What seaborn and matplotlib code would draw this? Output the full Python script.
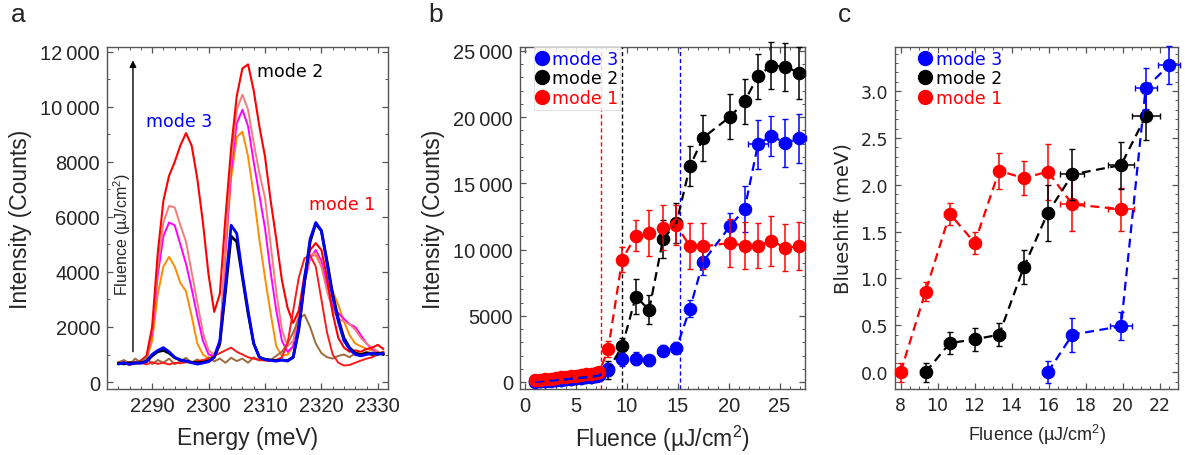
import numpy as np
import pandas as pd
import matplotlib
matplotlib.use("Agg")
import matplotlib.pyplot as plt
from matplotlib.ticker import MultipleLocator, FuncFormatter
from matplotlib.lines import Line2D
import seaborn as sns

# ---------------- data: panel a (spectra) ----------------
energy = np.arange(2284, 2332, 1.0)  # meV sample positions

spec_orange = [700, 730, 680, 710, 740, 800, 1500, 3200, 4200, 4550, 4200, 3600, 3300, 2400, 1400, 1000,
               850, 900, 1300, 4600, 7400, 8900, 9100, 8200, 6800, 5200, 3800, 2500, 1300, 950, 1000, 1300,
               2400, 3700, 4600, 4600, 4200, 3600, 3300, 2800, 2200, 1700, 1400, 1300, 1200, 1150, 1100, 1050]
spec_magenta = [680, 720, 700, 690, 760, 850, 1800, 3900, 5300, 5800, 5700, 5000, 4300, 3400, 2400, 1500,
                1000, 950, 1400, 4800, 7700, 9400, 9900, 9300, 8000, 6800, 5600, 4000, 2600, 1500, 1100, 1300,
                2300, 3600, 4500, 4800, 4400, 3500, 2700, 2500, 2300, 2100, 2000, 1700, 1400, 1200, 1050, 1000]
spec_salmon = [700, 680, 720, 700, 750, 850, 1900, 4200, 5800, 6400, 6350, 5700, 5100, 4000, 2900, 1800,
               1150, 1000, 1500, 5000, 8000, 9900, 10450, 9900, 8700, 7600, 6700, 5000, 3300, 1900, 1300, 1500,
               2500, 3700, 4600, 4700, 4200, 3300, 2600, 2300, 2200, 2100, 1900, 1600, 1400, 1250, 1100, 1000]
spec_red_hi = [720, 760, 690, 730, 780, 950, 2000, 4700, 6600, 7500, 8000, 8600, 9050, 8600, 7400, 5800,
               3900, 2550, 3200, 6000, 8500, 10400, 11400, 11550, 10600, 9300, 8200, 6600, 5200, 3700, 2700, 2150,
               2600, 3900, 4800, 5050, 4800, 3800, 2500, 1600, 1250, 1100, 1150, 1100, 1200, 1250, 1350, 1200]
spec_brown = [700, 800, 650, 850, 700, 900, 650, 800, 700, 850, 650, 750, 880, 700, 820, 680,
              900, 750, 850, 700, 880, 760, 850, 700, 900, 780, 850, 800, 950, 1100, 1400, 1800,
              2300, 2450, 2000, 1400, 1050, 900, 850, 950, 1000, 900, 1050, 1000, 1100, 1050, 1000, 1100]
spec_red_lo = [650, 700, 620, 680, 700, 640, 720, 660, 700, 640, 700, 680, 720, 700, 760, 800,
               850, 950, 1050, 1150, 1250, 1100, 1000, 900, 850, 800, 780, 760, 800, 900, 1400, 2600,
               3800, 4500, 4600, 4200, 3000, 1800, 1000, 700, 600, 620, 700, 780, 850, 900, 1000, 1100]
spec_black = [680, 660, 700, 680, 700, 740, 950, 1100, 1150, 1050, 880, 800, 760, 720, 700, 720,
              760, 900, 1400, 3300, 5300, 5100, 3800, 2500, 1400, 900, 820, 800, 780, 800, 780, 900,
              1900, 3600, 5100, 5750, 5500, 4400, 3200, 2300, 1600, 1250, 1050, 1000, 1050, 1000, 1050, 1000]
spec_blue = [650, 700, 640, 700, 680, 760, 1000, 1150, 1250, 1100, 900, 800, 760, 700, 650, 690,
             740, 900, 1500, 3500, 5700, 5400, 3900, 2600, 1400, 900, 820, 780, 760, 800, 760, 900,
             2000, 3700, 5200, 5800, 5500, 4300, 3100, 2200, 1500, 1200, 1000, 950, 1000, 1050, 1000, 1050]

# ---------------- data: panel b (intensity vs fluence) ----------------
b_low_fluence = [1.0, 1.5, 2.0, 2.5, 3.0, 3.5, 4.0, 4.5, 5.0, 5.5, 6.0, 6.5, 7.0, 7.3]
b_high_fluence = [8.17, 9.54, 10.88, 12.19, 13.56, 14.87, 16.2, 17.5, 20.17, 21.57, 22.88, 24.2, 25.55, 26.96]

b_mode1_low = [120, 160, 210, 250, 300, 340, 390, 430, 480, 530, 580, 640, 700, 750]
b_mode2_low = [40, 60, 90, 120, 150, 180, 210, 250, 280, 320, 360, 400, 450, 500]
b_mode3_low = [20, 50, 80, 110, 140, 170, 200, 240, 270, 310, 350, 390, 440, 500]

b_mode1_high = [2500, 9250, 11050, 11250, 11650, 11850, 10250, 10250, 10500, 10300, 10300, 10650, 10150, 10250]
b_mode2_high = [900, 2700, 6450, 5450, 10800, 12000, 16300, 18450, 20050, 21200, 23100, 23900, 23800, 23350]
b_mode3_high = [950, 1700, 1750, 1625, 2375, 2550, 5550, 9100, 11800, 13050, 17950, 18600, 18050, 18400]

b_mode1_err = [600, 950, 1150, 1750, 1700, 1500, 1750, 1750, 1800, 1800, 1700, 1900, 1800, 1800]
b_mode2_err = [700, 600, 1300, 1100, 1400, 1500, 1500, 1750, 1700, 1700, 1700, 1750, 1800, 1950]
b_mode3_err = [500, 500, 500, 400, 400, 450, 650, 1000, 1000, 1750, 1850, 1500, 1800, 1850]
b_xerr = [0.5, 0.5, 0.5, 0.5, 0.5, 0.5, 0.5, 0.5, 0.5, 0.5, 0.5, 0.5, 0.5, 0.5]
b_mode3_xerr = [0.5, 0.5, 0.5, 0.5, 0.5, 0.5, 0.5, 0.5, 0.5, 0.5, 1.0, 0.6, 0.6, 0.6]

b_thresholds = [7.42, 9.54, 15.2]   # mode 1, mode 2, mode 3

# ---------------- data: panel c (blueshift vs fluence) ----------------
c_mode1_f = [8.0, 9.35, 10.66, 12.01, 13.33, 14.66, 15.96, 17.29, 19.92]
c_mode1_s = [0.0, 0.86, 1.69, 1.38, 2.15, 2.07, 2.14, 1.79, 1.74]
c_mode1_err = [0.1, 0.1, 0.12, 0.12, 0.19, 0.18, 0.3, 0.28, 0.23]
c_mode1_xerr = [0.3, 0.3, 0.3, 0.3, 0.3, 0.3, 0.3, 0.65, 0.7]

c_mode2_f = [9.35, 10.66, 12.01, 13.33, 14.66, 15.96, 17.29, 19.92, 21.25]
c_mode2_s = [0.0, 0.31, 0.35, 0.40, 1.12, 1.70, 2.11, 2.21, 2.73]
c_mode2_err = [0.1, 0.12, 0.12, 0.12, 0.18, 0.3, 0.27, 0.25, 0.25]
c_mode2_xerr = [0.3, 0.3, 0.3, 0.3, 0.3, 0.3, 0.65, 0.7, 0.75]

c_mode3_f = [15.96, 17.29, 19.92, 21.25, 22.53]
c_mode3_s = [0.0, 0.40, 0.49, 3.03, 3.28]
c_mode3_err = [0.12, 0.18, 0.15, 0.22, 0.2]
c_mode3_xerr = [0.3, 0.3, 0.6, 0.6, 0.6]

mode_labels = ["mode 3", "mode 2", "mode 1"]
mode_colors = ["#0000FF", "#000000", "#FF0000"]

# ---------------- style ----------------
sns.set_theme(style="ticks")
plt.rcParams["font.family"] = ["Liberation Sans", "DejaVu Sans"]
plt.rcParams["mathtext.fontset"] = "custom"
plt.rcParams["mathtext.rm"] = "Liberation Sans"
FRAME = "#555555"

fig = plt.figure(figsize=(11.85, 4.56), dpi=100)
ax_a = fig.add_axes([0.0903, 0.1447, 0.2371, 0.75])
ax_b = fig.add_axes([0.4388, 0.1447, 0.2405, 0.75])
ax_c = fig.add_axes([0.7553, 0.1447, 0.2388, 0.75])


def style_axes(ax, xmaj, xmin, ymaj, ymin, fs):
    ax.xaxis.set_major_locator(MultipleLocator(xmaj))
    ax.xaxis.set_minor_locator(MultipleLocator(xmin))
    ax.yaxis.set_major_locator(MultipleLocator(ymaj))
    ax.yaxis.set_minor_locator(MultipleLocator(ymin))
    ax.tick_params(which="both", direction="in", top=True, right=True, color=FRAME,
                   labelsize=fs, pad=5)
    ax.tick_params(which="major", length=4, width=0.9)
    ax.tick_params(which="minor", length=2, width=0.7)
    for s in ax.spines.values():
        s.set_color(FRAME)
        s.set_linewidth(1.0)


def thin_thousands(v, pos):
    v = int(round(v))
    if abs(v) >= 10000:
        return f"{v // 1000}\u2009{v % 1000:03d}"
    return f"{v}"


# ---------------- panel a ----------------
spectra = [
    ("orange", "#FF8C00", spec_orange, 1.4),
    ("magenta", "#FF00FF", spec_magenta, 1.4),
    ("salmon", "#F47C7C", spec_salmon, 1.4),
    ("red_hi", "#FF0000", spec_red_hi, 1.5),
    ("brown", "#9C6B3C", spec_brown, 1.4),
    ("red_lo", "#FF1A1A", spec_red_lo, 1.4),
    ("black", "#000000", spec_black, 2.0),
    ("blue", "#0000FF", spec_blue, 2.0),
]
for name, col, vals, lw in spectra:
    df = pd.DataFrame({"energy": energy, "intensity": vals})
    sns.lineplot(data=df, x="energy", y="intensity", ax=ax_a, color=col, lw=lw,
                 estimator=None, sort=False, legend=False)

ax_a.set_xlim(2282, 2331.8)
ax_a.set_ylim(-255, 12180)
style_axes(ax_a, 10, 2, 2000, 1000, 14.5)
ax_a.yaxis.set_major_formatter(FuncFormatter(thin_thousands))
ax_a.set_xlabel("Energy (meV)", fontsize=16.5, labelpad=8)
ax_a.set_ylabel("Intensity (Counts)", fontsize=16.5, labelpad=6)

ax_a.annotate("", xy=(2286.6, 11800), xytext=(2286.6, 1000),
              arrowprops=dict(arrowstyle="-|>", color="black", lw=1.0, mutation_scale=10))
ax_a.text(2284.7, 5400, "Fluence (\u00b5J/cm$^2$)", rotation=90, ha="center", va="center",
          fontsize=11.5)
ax_a.text(2294.8, 9500, "mode 3", color="#0000FF", fontsize=12.5, ha="center", va="center",
          family="DejaVu Sans")
ax_a.text(2314.4, 11320, "mode 2", color="#000000", fontsize=12.5, ha="center", va="center",
          family="DejaVu Sans")
ax_a.text(2323.6, 6460, "mode 1", color="#FF0000", fontsize=12.5, ha="center", va="center",
          family="DejaVu Sans")

# ---------------- panel b ----------------
b_series = [
    ("mode 2", "#000000", b_mode2_low, b_mode2_high, b_mode2_err, b_xerr, 3),
    ("mode 3", "#0000FF", b_mode3_low, b_mode3_high, b_mode3_err, b_mode3_xerr, 4),
    ("mode 1", "#FF0000", b_mode1_low, b_mode1_high, b_mode1_err, b_xerr, 5),
]
for lab, col, low, high, err, xerr, z in b_series:
    fl = b_low_fluence + b_high_fluence
    iv = low + high
    ye = [150] * len(low) + err
    xe = [0.3] * len(low) + xerr
    df = pd.DataFrame({"fluence": fl, "intensity": iv})
    eb = ax_b.errorbar(fl, iv, yerr=ye, xerr=xe, fmt="none", ecolor=col, elinewidth=1.1,
                       capsize=2, capthick=1.0, zorder=z)
    for art in eb.lines[1] + eb.lines[2]:
        art.set_clip_on(False)
    for art in eb.lines[2]:
        art.set_clip_on(False)
    sns.scatterplot(data=df, x="fluence", y="intensity", ax=ax_b, color=col, s=95,
                    edgecolor=col, linewidth=0, zorder=z + 0.5, legend=False)
    sns.lineplot(data=df, x="fluence", y="intensity", ax=ax_b, color=col, lw=1.6,
                 dashes=(4, 2.5), sort=False, estimator=None, zorder=z + 3, legend=False)

for thr, col in zip(b_thresholds, ["#FF0000", "#000000", "#0000FF"]):
    ax_b.axvline(thr, color=col, lw=1.0, ls=(0, (3, 2)), zorder=1)

ax_b.set_xlim(-0.5, 27.5)
ax_b.set_ylim(-530, 25300)
style_axes(ax_b, 5, 1, 5000, 1000, 14.5)
ax_b.yaxis.set_major_formatter(FuncFormatter(thin_thousands))
ax_b.set_xlabel("Fluence (\u00b5J/cm$^2$)", fontsize=16.5, labelpad=6)
ax_b.set_ylabel("Intensity (Counts)", fontsize=16.5, labelpad=6)

handles = [Line2D([], [], marker="o", ls="none", color=c, markersize=10) for c in mode_colors]
leg = ax_b.legend(handles, mode_labels, loc="upper left", bbox_to_anchor=(0.05, 1.0),
                  borderaxespad=0.0, handlelength=0.6, handletextpad=0.25, labelspacing=0.1,
                  borderpad=0.15, frameon=True, fancybox=False,
                  prop={"family": "DejaVu Sans", "size": 12.5})
leg.get_frame().set_edgecolor("#dddddd")
leg.get_frame().set_linewidth(0.8)
leg.set_zorder(20)
for t, c in zip(leg.get_texts(), mode_colors):
    t.set_color(c)

# ---------------- panel c ----------------
c_series = [
    ("mode 1", "#FF0000", c_mode1_f, c_mode1_s, c_mode1_err, c_mode1_xerr, 3),
    ("mode 2", "#000000", c_mode2_f, c_mode2_s, c_mode2_err, c_mode2_xerr, 4),
    ("mode 3", "#0000FF", c_mode3_f, c_mode3_s, c_mode3_err, c_mode3_xerr, 5),
]
for lab, col, f, s, err, xerr, z in c_series:
    df = pd.DataFrame({"fluence": f, "shift": s})
    eb = ax_c.errorbar(f, s, yerr=err, xerr=xerr, fmt="none", ecolor=col, elinewidth=1.1,
                       capsize=2, capthick=1.0, zorder=z)
    for art in eb.lines[1] + eb.lines[2]:
        art.set_clip_on(False)
    sns.scatterplot(data=df, x="fluence", y="shift", ax=ax_c, color=col, s=95,
                    linewidth=0, zorder=z + 0.5, legend=False)
    sns.lineplot(data=df, x="fluence", y="shift", ax=ax_c, color=col, lw=1.6,
                 dashes=(4, 2.5), sort=False, estimator=None, zorder=z + 0.4, legend=False)

ax_c.set_xlim(7.7, 23.0)
ax_c.set_ylim(-0.18, 3.47)
style_axes(ax_c, 2, 0.5, 0.5, 0.1, 12.5)
for lbl in ax_c.get_xticklabels() + ax_c.get_yticklabels():
    lbl.set_family("DejaVu Sans")
ax_c.yaxis.set_major_formatter(FuncFormatter(lambda v, p: f"{v:.1f}"))
ax_c.set_xlabel("Fluence (\u00b5J/cm$^2$)", fontsize=13, labelpad=6)
ax_c.set_ylabel("Blueshift (meV)", fontsize=14, labelpad=6, family="DejaVu Sans")

handles_c = [Line2D([], [], marker="o", ls="none", color=c, markersize=10) for c in mode_colors]
leg_c = ax_c.legend(handles_c, mode_labels, loc="upper left", bbox_to_anchor=(0.08, 1.0),
                    borderaxespad=0.0, handlelength=0.6, handletextpad=0.3, labelspacing=0.1,
                    borderpad=0.15, frameon=False, prop={"family": "DejaVu Sans", "size": 12.5})
for t, c in zip(leg_c.get_texts(), mode_colors):
    t.set_color(c)

# panel letters
fig.text(0.015, 0.967, "a", fontsize=19, ha="center", va="center")
fig.text(0.368, 0.967, "b", fontsize=19, ha="center", va="center")
fig.text(0.713, 0.967, "c", fontsize=19, ha="center", va="center")

fig.savefig("out.png", dpi=100)
